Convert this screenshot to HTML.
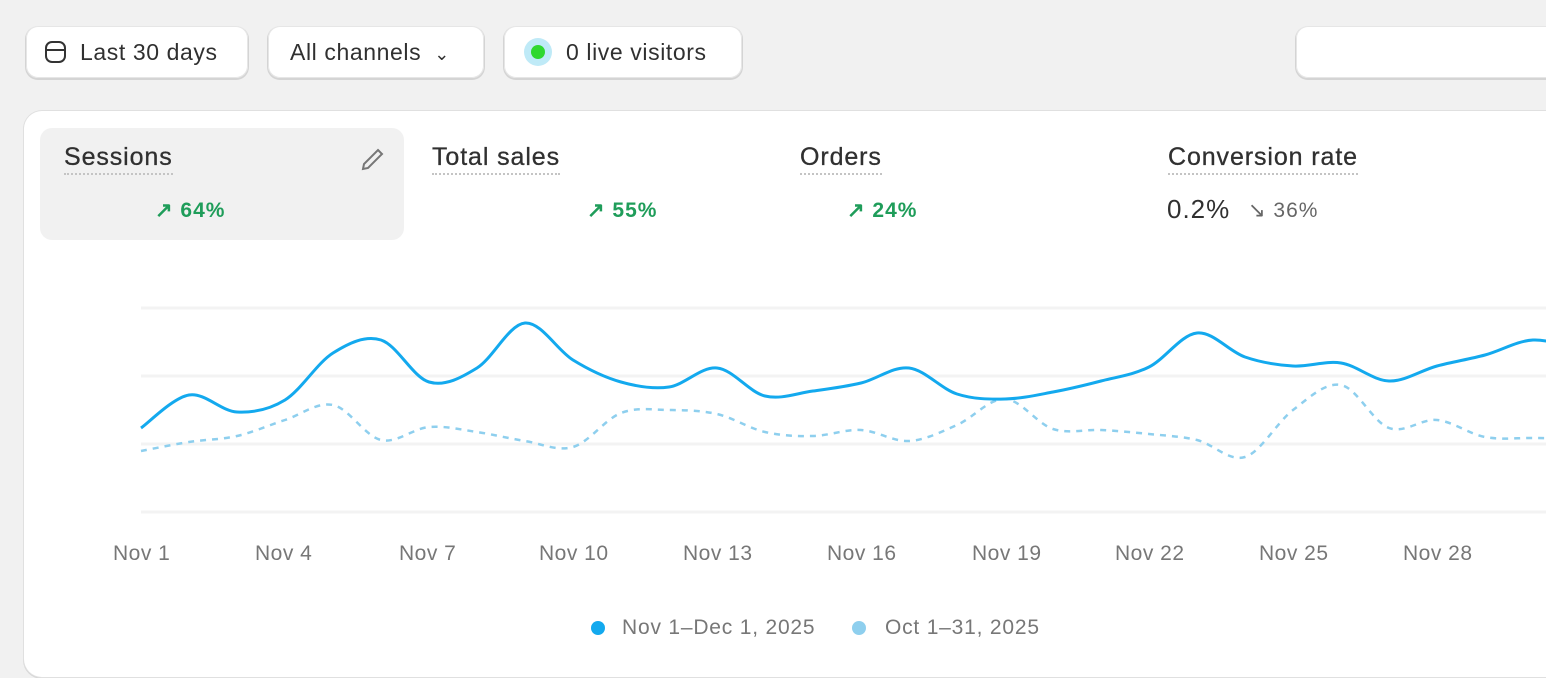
<!DOCTYPE html>
<html><head><meta charset="utf-8"><style>
*{box-sizing:border-box;margin:0;padding:0}
body{width:1546px;height:678px;overflow:hidden;background:#f1f1f1;font-family:"Liberation Sans",sans-serif;position:relative;color:#303030}
.btn{position:absolute;top:26px;height:52px;background:#fff;border-radius:12px;box-shadow:0 1px 0 1px #d4d4d4, inset 0 0 0 1px #e6e6e6;font-size:23px;letter-spacing:0.6px;line-height:52px;color:#303030}
.card{position:absolute;left:24px;top:111px;width:1560px;height:566px;background:#fff;border-radius:18px;box-shadow:0 0 0 1px #e0e0e0, 0 1px 0 1px #d6d6d6}
.sel{position:absolute;left:40px;top:128px;width:364px;height:112px;background:#f1f1f1;border-radius:12px}
.t{position:absolute;top:143px;font-size:25px;letter-spacing:0.9px;color:#303030;border-bottom:2px dotted #c4c4c4;padding-bottom:2px;line-height:28px;-webkit-text-stroke:0.3px #303030}
.p{position:absolute;top:198px;font-size:21px;letter-spacing:1px;font-weight:bold;color:#1f9d5a}
.ax{position:absolute;top:542px;font-size:21px;letter-spacing:0.5px;color:#777}
.lg{position:absolute;top:616px;font-size:21px;letter-spacing:0.8px;color:#777}
.dot{position:absolute;width:14px;height:14px;border-radius:50%}
</style></head><body>
<div class="btn" style="left:26px;width:222px;padding-left:54px">Last 30 days</div>
<svg style="position:absolute;left:44px;top:40px" width="24" height="24"><rect x="2" y="2" width="19" height="20" rx="6" fill="none" stroke="#333" stroke-width="2"/><line x1="2" y1="10" x2="21" y2="10" stroke="#333" stroke-width="2"/></svg>
<div class="btn" style="left:268px;width:216px;padding-left:22px">All channels <span style="font-size:18px;margin-left:6px">&#8964;</span></div>
<div class="btn" style="left:504px;width:238px;padding-left:62px">0 live visitors</div>
<div style="position:absolute;left:524px;top:38px;width:28px;height:28px;border-radius:50%;background:#bfeaf7"></div>
<div style="position:absolute;left:531px;top:45px;width:14px;height:14px;border-radius:50%;background:#2fd82f"></div>
<div class="btn" style="left:1296px;width:300px"></div>
<div class="card"></div>
<div class="sel"></div>
<div class="t" style="left:64px">Sessions</div>
<svg style="position:absolute;left:358px;top:146px" width="28" height="28"><path d="M20 4 L24 8 L10 22 L5 23 L6 18 Z" fill="none" stroke="#777" stroke-width="2"/></svg>
<div class="t" style="left:432px">Total sales</div>
<div class="t" style="left:800px">Orders</div>
<div class="t" style="left:1168px">Conversion rate</div>
<div class="p" style="left:155px">&#8599; 64%</div>
<div class="p" style="left:587px">&#8599; 55%</div>
<div class="p" style="left:847px">&#8599; 24%</div>
<div style="position:absolute;left:1167px;top:194px;font-size:26px;letter-spacing:1px;color:#303030">0.2%</div>
<div class="p" style="left:1248px;color:#666;font-weight:normal">&#8600; 36%</div>
<svg id="ch" style="position:absolute;left:0;top:0" width="1546" height="678">
<g stroke="#f3f3f3" stroke-width="3"><line x1="141" y1="308" x2="1546" y2="308"/><line x1="141" y1="376" x2="1546" y2="376"/><line x1="141" y1="444" x2="1546" y2="444"/><line x1="141" y1="512" x2="1546" y2="512"/></g>
<path id="b" fill="none" stroke="#8ecfee" stroke-width="2.5" stroke-dasharray="6 6"/>
<path id="a" fill="none" stroke="#13a9ee" stroke-width="3"/>
</svg>
<div class="ax" style="left:113px">Nov 1</div><div class="ax" style="left:255px">Nov 4</div><div class="ax" style="left:399px">Nov 7</div><div class="ax" style="left:539px">Nov 10</div><div class="ax" style="left:683px">Nov 13</div><div class="ax" style="left:827px">Nov 16</div><div class="ax" style="left:972px">Nov 19</div><div class="ax" style="left:1115px">Nov 22</div><div class="ax" style="left:1259px">Nov 25</div><div class="ax" style="left:1403px">Nov 28</div>
<div class="dot" style="left:591px;top:621px;background:#13a9ee"></div><div class="lg" style="left:622px">Nov 1–Dec 1, 2025</div>
<div class="dot" style="left:852px;top:621px;background:#8ecfee"></div><div class="lg" style="left:885px">Oct 1–31, 2025</div>
<script>
var A=[428,395,412,400,353,340,382,368,323,360,382,387,368,396,391,383,368,394,399,392,381,367,333,357,366,363,381,366,355,340,350];
var B=[451,442,436,420,405,440,427,432,441,447,413,410,414,432,436,430,441,425,399,429,430,434,440,457,410,385,428,420,437,438,438];
function path(v){var p=v.map(function(y,i){return [141+48*i,y]});var d="M"+p[0][0]+" "+p[0][1];
for(var i=0;i<p.length-1;i++){var p0=p[i-1]||p[i],p1=p[i],p2=p[i+1],p3=p[i+2]||p2;var t=0.5/3;
d+=" C"+(p1[0]+(p2[0]-p0[0])*t)+" "+(p1[1]+(p2[1]-p0[1])*t)+" "+(p2[0]-(p3[0]-p1[0])*t)+" "+(p2[1]-(p3[1]-p1[1])*t)+" "+p2[0]+" "+p2[1];}return d;}
document.getElementById('a').setAttribute('d',path(A));document.getElementById('b').setAttribute('d',path(B));
</script>
</body></html>
